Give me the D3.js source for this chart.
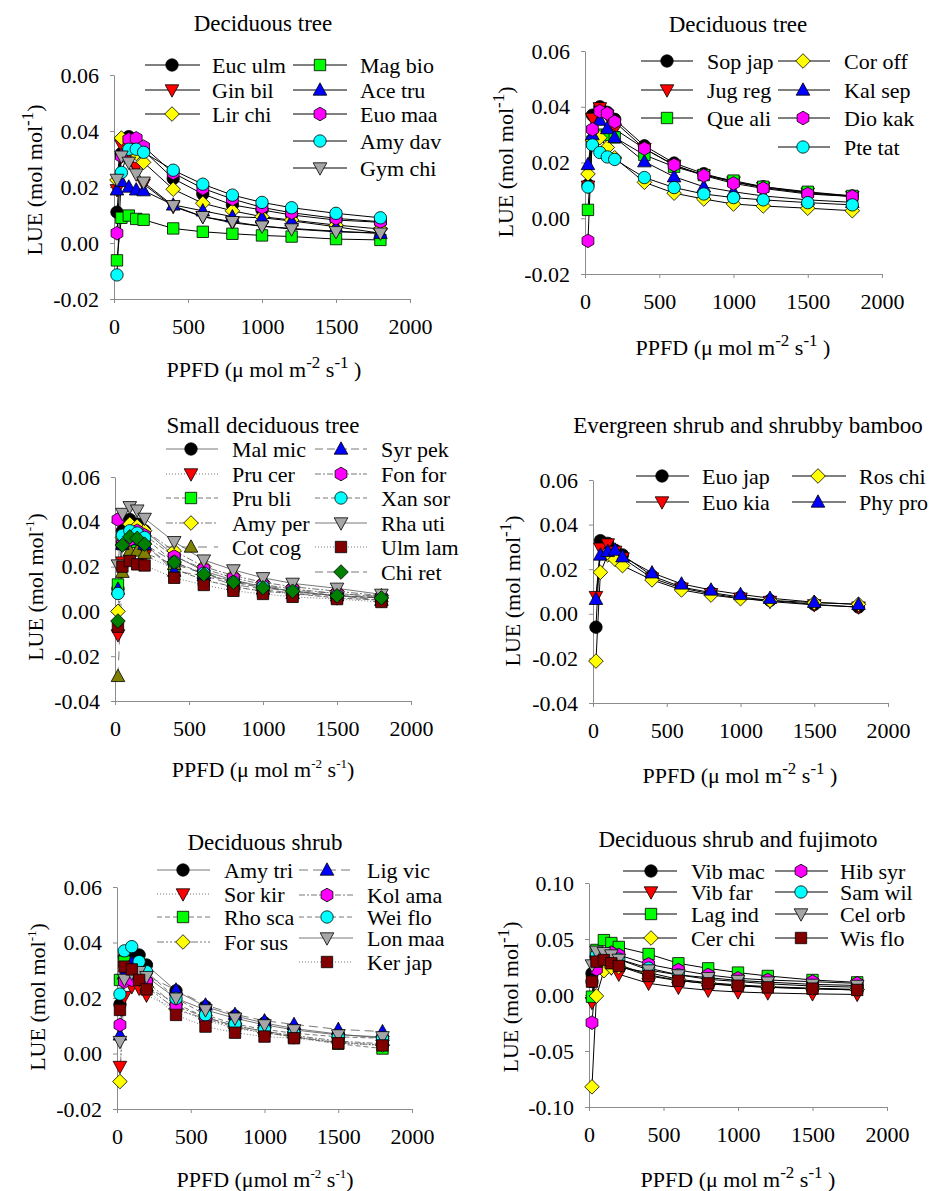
<!DOCTYPE html>
<html>
<head>
<meta charset="utf-8">
<script src="https://cdn.jsdelivr.net/npm/d3@7"></script>
<style>
body { margin: 0; background: #fff; }
text { font-family: "Liberation Serif", "Times New Roman", serif; fill: #000; }
</style>
</head>
<body>
<svg id="chart" width="934" height="1191"></svg>
<script>
// PPFD levels (x) shared by every panel
var ppfd = [20, 50, 100, 150, 200, 400, 600, 800, 1000, 1200, 1500, 1800];
var xTicks = [0, 500, 1000, 1500, 2000];
var yTicksA = [-0.02, 0, 0.02, 0.04, 0.06];
var yTicksB = [-0.04, -0.02, 0, 0.02, 0.04, 0.06];
var yTicksC = [-0.10, -0.05, 0, 0.05, 0.10];

// Panel 1: Deciduous tree
var p1Names = ["Euc ulm", "Gin bil", "Lir chi", "Mag bio", "Ace tru", "Euo maa", "Amy dav", "Gym chi"];
var p1Values = [
  [0.011, 0.032, 0.038, 0.036, 0.033, 0.023, 0.0175, 0.0136, 0.0118, 0.0100, 0.0082, 0.0074],
  [0.019, 0.035, 0.032, 0.027, 0.021, 0.013, 0.0094, 0.0072, 0.0060, 0.0052, 0.0042, 0.0035],
  [0.0225, 0.0375, 0.034, 0.032, 0.0288, 0.0192, 0.0142, 0.0115, 0.0094, 0.0082, 0.0064, 0.0050],
  [-0.0062, 0.0090, 0.0098, 0.0086, 0.0083, 0.0052, 0.0040, 0.0033, 0.0027, 0.0023, 0.0014, 0.0011],
  [0.019, 0.022, 0.020, 0.019, 0.0187, 0.0136, 0.0115, 0.0094, 0.0090, 0.0079, 0.0058, 0.0035],
  [0.0035, 0.031, 0.037, 0.0374, 0.0344, 0.025, 0.0195, 0.0157, 0.0127, 0.0108, 0.0088, 0.0076],
  [-0.0114, 0.0252, 0.0335, 0.0335, 0.0324, 0.026, 0.021, 0.0171, 0.0145, 0.0126, 0.0106, 0.0090],
  [0.0227, 0.031, 0.0288, 0.0246, 0.0217, 0.0133, 0.0094, 0.0076, 0.0060, 0.0050, 0.0040, 0.0035]
];
var p1Marks = ["blackCircle", "redTriDown", "yellowDiamond", "greenSquare", "blueTriUp", "magentaHex", "cyanCircle", "grayTriDown"];

// Panel 2: Deciduous tree
var p2Names = ["Sop jap", "Jug reg", "Que ali", "Cor off", "Kal sep", "Dio kak", "Pte tat"];
var p2Values = [
  [0.012, 0.037, 0.040, 0.038, 0.0355, 0.026, 0.0198, 0.016, 0.0131, 0.0113, 0.0092, 0.0080],
  [0.0115, 0.0358, 0.0396, 0.037, 0.032, 0.025, 0.019, 0.0155, 0.013, 0.011, 0.0090, 0.0078],
  [0.003, 0.0275, 0.030, 0.0298, 0.029, 0.0227, 0.0185, 0.0155, 0.0135, 0.0113, 0.0095, 0.0080],
  [0.0159, 0.028, 0.0289, 0.0254, 0.0217, 0.0129, 0.0090, 0.0069, 0.0051, 0.0044, 0.0036, 0.0027],
  [0.0193, 0.030, 0.0352, 0.0322, 0.029, 0.0203, 0.0149, 0.0113, 0.0095, 0.0080, 0.0066, 0.0057],
  [-0.0081, 0.0319, 0.0384, 0.0376, 0.0346, 0.025, 0.0191, 0.0153, 0.0125, 0.0107, 0.0087, 0.0078],
  [0.0112, 0.0263, 0.0236, 0.022, 0.0211, 0.0146, 0.011, 0.0087, 0.0074, 0.0066, 0.0056, 0.0048]
];
var p2Marks = ["blackCircle", "redTriDown", "greenSquare", "yellowDiamond", "blueTriUp", "magentaHex", "cyanCircle"];

// Panel 3: Small deciduous tree
var p3Names = ["Mal mic", "Pru cer", "Pru bli", "Amy per", "Cot cog", "Syr pek", "Fon for", "Xan sor", "Rha uti", "Ulm lam", "Chi ret"];
var p3Values = [
  [0.010, 0.036, 0.041, 0.039, 0.036, 0.025, 0.018, 0.014, 0.011, 0.009, 0.007, 0.006],
  [-0.0105, 0.022, 0.030, 0.029, 0.025, 0.019, 0.014, 0.011, 0.009, 0.008, 0.006, 0.005],
  [0.012, 0.030, 0.032, 0.031, 0.030, 0.019, 0.014, 0.011, 0.009, 0.008, 0.006, 0.005],
  [0.000, 0.033, 0.039, 0.038, 0.036, 0.027, 0.020, 0.016, 0.013, 0.011, 0.009, 0.007],
  [-0.029, 0.0175, 0.027, 0.027, 0.026, 0.021, 0.017, 0.0135, 0.0115, 0.0095, 0.008, 0.0065],
  [0.010, 0.030, 0.033, 0.032, 0.030, 0.018, 0.016, 0.012, 0.010, 0.008, 0.007, 0.005],
  [0.041, 0.030, 0.032, 0.036, 0.034, 0.0245, 0.019, 0.015, 0.012, 0.010, 0.008, 0.0065],
  [0.008, 0.034, 0.036, 0.035, 0.033, 0.022, 0.017, 0.013, 0.011, 0.009, 0.007, 0.006],
  [0.0207, 0.0437, 0.0467, 0.0452, 0.0415, 0.0311, 0.0229, 0.0185, 0.015, 0.0125, 0.0103, 0.0076],
  [-0.0068, 0.020, 0.0225, 0.021, 0.0205, 0.015, 0.0118, 0.0092, 0.0078, 0.0065, 0.0055, 0.0042],
  [-0.0043, 0.0296, 0.0333, 0.0326, 0.030, 0.022, 0.0165, 0.013, 0.0105, 0.009, 0.007, 0.006]
];
var p3Marks = ["blackCircle", "redTriDown", "greenSquare", "yellowDiamond", "oliveTriUp", "blueTriUp", "magentaHex", "cyanCircle", "grayTriDown", "darkredSquare", "darkgreenDiamond"];
var p3Dash = ["none", "1,2", "5,3", "7,2,2,2", "9,7", "8,4", "6,2,2,2", "5,3", "none", "1,2", "8,4"];

// Panel 4: Evergreen shrub and shrubby bamboo
var p4Names = ["Euo jap", "Euo kia", "Ros chi", "Phy pro"];
var p4Values = [
  [-0.006, 0.0328, 0.0316, 0.0285, 0.0264, 0.017, 0.012, 0.0095, 0.0075, 0.006, 0.0042, 0.0030],
  [0.0077, 0.0294, 0.0313, 0.028, 0.025, 0.016, 0.0115, 0.009, 0.007, 0.0055, 0.0040, 0.0030],
  [-0.0212, 0.0186, 0.0264, 0.0244, 0.0216, 0.0152, 0.0107, 0.0084, 0.0068, 0.0060, 0.0050, 0.0043],
  [0.0065, 0.0264, 0.028, 0.0286, 0.0256, 0.0184, 0.0134, 0.0107, 0.0087, 0.0070, 0.0052, 0.0042]
];
var p4Marks = ["blackCircle", "redTriDown", "yellowDiamond", "blueTriUp"];

// Panel 5: Deciduous shrub
var p5Names = ["Amy tri", "Sor kir", "Rho sca", "For sus", "Lig vic", "Kol ama", "Wei flo", "Lon maa", "Ker jap"];
var p5Values = [
  [0.0177, 0.0349, 0.036, 0.0355, 0.0319, 0.0226, 0.0169, 0.0135, 0.011, 0.009, 0.007, 0.0055],
  [-0.0047, 0.0205, 0.024, 0.0235, 0.021, 0.016, 0.012, 0.009, 0.0075, 0.006, 0.004, 0.003],
  [0.0265, 0.0331, 0.030, 0.028, 0.024, 0.018, 0.013, 0.010, 0.008, 0.006, 0.0035, 0.0018],
  [-0.0101, 0.027, 0.029, 0.027, 0.024, 0.016, 0.0125, 0.0095, 0.0075, 0.006, 0.004, 0.003],
  [0.0067, 0.0289, 0.0327, 0.0303, 0.028, 0.0229, 0.0175, 0.0141, 0.0118, 0.0105, 0.0087, 0.0079],
  [0.0103, 0.0259, 0.0265, 0.027, 0.0259, 0.0171, 0.013, 0.010, 0.008, 0.0065, 0.0045, 0.0035],
  [0.0214, 0.037, 0.0385, 0.0331, 0.0295, 0.0199, 0.0139, 0.0106, 0.0087, 0.0073, 0.006, 0.0055],
  [0.0043, 0.0267, 0.029, 0.0295, 0.0277, 0.0199, 0.0157, 0.0127, 0.0103, 0.0085, 0.0067, 0.006],
  [0.0157, 0.0313, 0.0303, 0.0265, 0.0231, 0.0139, 0.0097, 0.0075, 0.0061, 0.0055, 0.0037, 0.0029]
];
var p5Marks = ["blackCircle", "redTriDown", "greenSquare", "yellowDiamond", "blueTriUp", "magentaHex", "cyanCircle", "grayTriDown", "darkredSquare"];
var p5Dash = ["none", "1,2", "5,3", "7,2,2,2,2,2", "9,5", "6,2,2,2", "5,3", "none", "1,2"];

// Panel 6: Deciduous shrub and fujimoto
var p6Names = ["Vib mac", "Vib far", "Lag ind", "Cer chi", "Hib syr", "Sam wil", "Cel orb", "Wis flo"];
var p6Values = [
  [0.0193, 0.033, 0.032, 0.029, 0.027, 0.018, 0.013, 0.010, 0.008, 0.007, 0.0055, 0.0045],
  [-0.0068, 0.030, 0.027, 0.024, 0.0185, 0.0104, 0.0068, 0.0042, 0.0027, 0.0018, 0.0010, 0.0005],
  [-0.0015, 0.0402, 0.049, 0.0464, 0.0429, 0.0366, 0.0283, 0.0238, 0.020, 0.017, 0.0134, 0.0113],
  [-0.082, -0.0009, 0.0217, 0.0247, 0.025, 0.020, 0.014, 0.011, 0.009, 0.0075, 0.006, 0.005],
  [-0.0247, 0.023, 0.034, 0.0378, 0.0357, 0.0274, 0.0223, 0.0179, 0.0149, 0.0134, 0.0119, 0.0104],
  [0.012, 0.0357, 0.036, 0.034, 0.032, 0.024, 0.018, 0.014, 0.012, 0.010, 0.008, 0.007],
  [0.0268, 0.039, 0.0378, 0.0357, 0.0318, 0.0223, 0.0179, 0.0155, 0.013, 0.0115, 0.0095, 0.0085],
  [0.0119, 0.0298, 0.0312, 0.0283, 0.0259, 0.017, 0.0128, 0.0104, 0.0083, 0.0068, 0.0057, 0.0045]
];
var p6Marks = ["blackCircle", "redTriDown", "greenSquare", "yellowDiamond", "magentaHex", "cyanCircle", "grayTriDown", "darkredSquare"];

var shapes = {
  circle: "M6.2,0A6.2,6.2 0 1,1 -6.2,0A6.2,6.2 0 1,1 6.2,0Z",
  square: "M-5.7,-5.7H5.7V5.7H-5.7Z",
  diamond: "M0,-7.3L7.3,0L0,7.3L-7.3,0Z",
  triUp: "M0,-7.2L6.8,5.2L-6.8,5.2Z",
  triDown: "M0,7.2L6.8,-5.2L-6.8,-5.2Z",
  hex: "M0,-6.8L5.9,-3.4L5.9,3.4L0,6.8L-5.9,3.4L-5.9,-3.4Z"
};

var markStyle = {
  blackCircle: { shape: "circle", fill: "#000000" },
  redTriDown: { shape: "triDown", fill: "#ff0000" },
  greenSquare: { shape: "square", fill: "#00ff00" },
  yellowDiamond: { shape: "diamond", fill: "#ffff00" },
  blueTriUp: { shape: "triUp", fill: "#0000ff" },
  magentaHex: { shape: "hex", fill: "#ff00ff" },
  cyanCircle: { shape: "circle", fill: "#00ffff" },
  grayTriDown: { shape: "triDown", fill: "#a6a6a6" },
  oliveTriUp: { shape: "triUp", fill: "#808000" },
  darkredSquare: { shape: "square", fill: "#800000" },
  darkgreenDiamond: { shape: "diamond", fill: "#008000" }
};

var panels = [
  { names: p1Names, values: p1Values, marks: p1Marks, dash: null,
    x0: 114, x1: 410, yTop: 75, yBottom: 299, yDomain: [-0.02, 0.06], yTicks: yTicksA,
    title: "Deciduous tree", titleX: 263, titleY: 31,
    yLabelX: 42, yLabelY: 180, xLabelX: 264, xLabelY: 377, xLabel: "a", supSize: 17,
    legend: [{ lx1: 145, lx2: 200, mx: 172, tx: 212, rows: [65, 90, 114], idx: [0, 1, 2] },
             { lx1: 293, lx2: 347, mx: 320, tx: 360, rows: [65, 90, 114, 141, 168], idx: [3, 4, 5, 6, 7] }] },
  { names: p2Names, values: p2Values, marks: p2Marks, dash: null,
    x0: 585, x1: 882, yTop: 51, yBottom: 274, yDomain: [-0.02, 0.06], yTicks: yTicksA,
    title: "Deciduous tree", titleX: 738, titleY: 32,
    yLabelX: 513, yLabelY: 162, xLabelX: 733, xLabelY: 355, xLabel: "a", supSize: 17,
    legend: [{ lx1: 641, lx2: 693, mx: 667, tx: 707, rows: [61, 90, 118], idx: [0, 1, 2] },
             { lx1: 778, lx2: 830, mx: 803, tx: 844, rows: [61, 90, 118, 147], idx: [3, 4, 5, 6] }] },
  { names: p3Names, values: p3Values, marks: p3Marks, dash: p3Dash,
    x0: 115, x1: 411, yTop: 477, yBottom: 701, yDomain: [-0.04, 0.06], yTicks: yTicksB,
    title: "Small deciduous tree", titleX: 263, titleY: 433,
    yLabelX: 43, yLabelY: 587, xLabelX: 263, xLabelY: 777, xLabel: "b", supSize: 13,
    legend: [{ lx1: 166, lx2: 218, mx: 191, tx: 232, rows: [449, 474, 498, 523, 547], idx: [0, 1, 2, 3, 4] },
             { lx1: 315, lx2: 367, mx: 341, tx: 381, rows: [449, 474, 498, 523, 547, 572], idx: [5, 6, 7, 8, 9, 10] }] },
  { names: p4Names, values: p4Values, marks: p4Marks, dash: null,
    x0: 593, x1: 888, yTop: 480, yBottom: 703, yDomain: [-0.04, 0.06], yTicks: yTicksB,
    title: "Evergreen shrub and shrubby bamboo", titleX: 748, titleY: 433,
    yLabelX: 520, yLabelY: 591, xLabelX: 740, xLabelY: 783, xLabel: "a", supSize: 17,
    legend: [{ lx1: 636, lx2: 689, mx: 662, tx: 702, rows: [476, 502], idx: [0, 1] },
             { lx1: 792, lx2: 846, mx: 818, tx: 859, rows: [476, 502], idx: [2, 3] }] },
  { names: p5Names, values: p5Values, marks: p5Marks, dash: p5Dash,
    x0: 117, x1: 412, yTop: 887, yBottom: 1109, yDomain: [-0.02, 0.06], yTicks: yTicksA,
    title: "Deciduous shrub", titleX: 265, titleY: 850,
    yLabelX: 45, yLabelY: 997, xLabelX: 265, xLabelY: 1187, xLabel: "c", supSize: 13,
    legend: [{ lx1: 157, lx2: 210, mx: 183, tx: 224, rows: [870, 894, 917, 942], idx: [0, 1, 2, 3] },
             { lx1: 299, lx2: 353, mx: 327, tx: 367, rows: [870, 895, 917, 938, 962], idx: [4, 5, 6, 7, 8] }] },
  { names: p6Names, values: p6Values, marks: p6Marks, dash: null,
    x0: 589, x1: 887, yTop: 883, yBottom: 1107, yDomain: [-0.10, 0.10], yTicks: yTicksC,
    title: "Deciduous shrub and fujimoto", titleX: 738, titleY: 847,
    yLabelX: 518, yLabelY: 997, xLabelX: 738, xLabelY: 1187, xLabel: "a", supSize: 17,
    legend: [{ lx1: 623, lx2: 677, mx: 651, tx: 691, rows: [871, 892, 914, 938], idx: [0, 1, 2, 3] },
             { lx1: 775, lx2: 828, mx: 801, tx: 840, rows: [871, 892, 914, 938], idx: [4, 5, 6, 7] }] }
];

var svg = d3.select("#chart");

function drawPanel(p) {
  var x = d3.scaleLinear().domain([0, 2000]).range([p.x0, p.x1]);
  var y = d3.scaleLinear().domain(p.yDomain).range([p.yBottom, p.yTop]);
  var g = svg.append("g");
  var lineColor = p.dash ? "#555" : "#000";
  var lineWidth = p.dash ? 0.8 : 1;

  var xAxis = d3.axisBottom(x).tickValues(xTicks).tickSize(4).tickPadding(15).tickSizeOuter(0)
    .tickFormat(d3.format("d"));
  var yAxis = d3.axisLeft(y).tickValues(p.yTicks).tickSize(4).tickPadding(11).tickSizeOuter(0)
    .tickFormat(function(d) { return d.toFixed(2); });

  var gx = g.append("g").attr("transform", "translate(0," + p.yBottom + ")").call(xAxis);
  var gy = g.append("g").attr("transform", "translate(" + p.x0 + ",0)").call(yAxis);
  [gx, gy].forEach(function(a) {
    a.select(".domain").attr("stroke", "#8c8c8c");
    a.selectAll(".tick line").attr("stroke", "#8c8c8c");
    a.selectAll(".tick text").attr("font-size", 22).attr("font-family", "Liberation Serif").attr("fill", "#000");
  });

  // title
  g.append("text").attr("x", p.titleX).attr("y", p.titleY).attr("text-anchor", "middle")
    .attr("font-size", 23).text(p.title);

  // y label
  var yl = g.append("text").attr("transform", "translate(" + p.yLabelX + "," + p.yLabelY + ") rotate(-90)")
    .attr("text-anchor", "middle").attr("font-size", 22);
  yl.append("tspan").text("LUE (mol mol");
  yl.append("tspan").attr("dy", -9).attr("font-size", p.supSize).text("-1");
  yl.append("tspan").attr("dy", 9).text(")");

  // x label
  var xl = g.append("text").attr("x", p.xLabelX).attr("y", p.xLabelY).attr("text-anchor", "middle")
    .attr("font-size", 22);
  var head = p.xLabel === "c" ? "PPFD (\u03bcmol m" : "PPFD (\u03bc mol m";
  xl.append("tspan").text(head);
  xl.append("tspan").attr("dy", -9).attr("font-size", p.supSize).text("-2");
  xl.append("tspan").attr("dy", 9).text(" s");
  xl.append("tspan").attr("dy", -9).attr("font-size", p.supSize).text("-1");
  xl.append("tspan").attr("dy", 9).text(p.xLabel === "a" ? " )" : ")");

  var line = d3.line().x(function(d, i) { return x(ppfd[i]); }).y(function(d) { return y(d); });

  // series lines
  p.values.forEach(function(vals, si) {
    g.append("path").datum(vals).attr("d", line).attr("fill", "none")
      .attr("stroke", lineColor).attr("stroke-width", lineWidth)
      .attr("stroke-dasharray", p.dash && p.dash[si] !== "none" ? p.dash[si] : null);
  });

  // series markers
  p.values.forEach(function(vals, si) {
    var st = markStyle[p.marks[si]];
    g.selectAll(null).data(vals).enter().append("path")
      .attr("d", shapes[st.shape])
      .attr("transform", function(d, i) { return "translate(" + x(ppfd[i]) + "," + y(d) + ")"; })
      .attr("fill", st.fill).attr("stroke", "#000").attr("stroke-width", 0.8);
  });

  // legend
  p.legend.forEach(function(col) {
    col.idx.forEach(function(si, k) {
      var ry = col.rows[k];
      var st = markStyle[p.marks[si]];
      g.append("line").attr("x1", col.lx1).attr("x2", col.lx2).attr("y1", ry).attr("y2", ry)
        .attr("stroke", lineColor).attr("stroke-width", lineWidth)
        .attr("stroke-dasharray", p.dash && p.dash[si] !== "none" ? p.dash[si] : null);
      g.append("path").attr("d", shapes[st.shape]).attr("transform", "translate(" + col.mx + "," + ry + ")")
        .attr("fill", st.fill).attr("stroke", "#000").attr("stroke-width", 0.8);
      g.append("text").attr("x", col.tx).attr("y", ry).attr("dy", "0.35em").attr("font-size", 22)
        .text(p.names[si]);
    });
  });
}

panels.forEach(drawPanel);
</script>
</body>
</html>
